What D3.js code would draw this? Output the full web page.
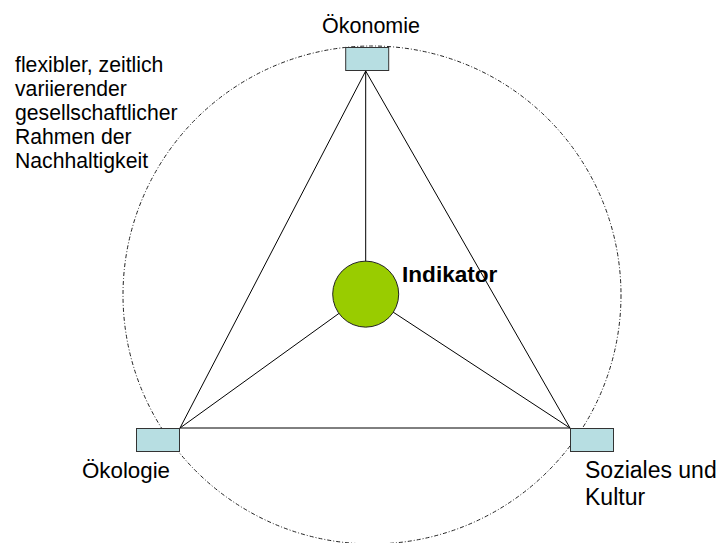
<!DOCTYPE html>
<html><head><meta charset="utf-8">
<script src="https://cdn.jsdelivr.net/npm/d3@7"></script>
<style>body{margin:0;background:#fff}text{font-family:"Liberation Sans",Arial,sans-serif;fill:#000}</style>
</head><body>
<svg id="c" width="718" height="543"></svg>
<script>
// Diagram data
const pillars = ["Ökonomie", "Ökologie", "Soziales und Kultur"];
const pillarLabelLines = [["Ökonomie"], ["Ökologie"], ["Soziales und", "Kultur"]];
const centerLabel = ["Indikator"];
const frameLabelLines = ["flexibler, zeitlich", "variierender", "gesellschaftlicher", "Rahmen der", "Nachhaltigkeit"];
// abstract layout units (0..100)
const pillarU = [50, 2, 102];
const pillarV = [0, 100, 100];

const sx = d3.scaleLinear().domain([2, 102]).range([180, 570]);
const sy = d3.scaleLinear().domain([0, 100]).range([71, 428]);
const s = d3.select("#c");
const verts = pillars.map((p, i) => ({name: p, x: sx(pillarU[i]) - (i === 0 ? 1.5 : 0), y: sy(pillarV[i])}));
const core = {x: verts[0].x, y: sy(62.5), r: 33};

// frame circle
s.append("circle").attr("cx", 372).attr("cy", 295).attr("r", 249)
  .attr("fill", "none").attr("stroke", "#222").attr("stroke-width", 1)
  .attr("stroke-dasharray", "4,2,1,2");

// triangle
const tri = d3.line()(verts.map(v => [v.x, v.y]).concat([[verts[0].x, verts[0].y]]));
s.append("path").attr("d", tri).attr("fill", "none").attr("stroke", "#000").attr("stroke-width", 1);
// spokes
verts.forEach(v => s.append("line").attr("x1", core.x).attr("y1", core.y).attr("x2", v.x).attr("y2", v.y)
  .attr("stroke", "#000").attr("stroke-width", 1));

// boxes
const bw = 44, bh = 24;
const boxPos = [
  {x: verts[0].x + 1.5 - bw / 2, y: verts[0].y - bh},
  {x: verts[1].x - bw, y: verts[1].y},
  {x: verts[2].x, y: verts[2].y}
];
boxPos.forEach(b => s.append("rect").attr("x", b.x + 0.5).attr("y", b.y + 0.5).attr("width", bw - 1).attr("height", bh - 1)
  .attr("fill", "#b7dee2").attr("stroke", "#333").attr("stroke-width", 1));

// core circle
s.append("circle").attr("cx", core.x).attr("cy", core.y).attr("r", core.r)
  .attr("fill", "#99cc00").attr("stroke", "#222").attr("stroke-width", 1);

// labels
const labPos = [
  {x: 371, y: 33, anchor: "middle", fs: 21.5},
  {x: 82, y: 478, anchor: "start", fs: 22.3},
  {x: 585, y: 478, anchor: "start", fs: 23}
];
pillarLabelLines.forEach((lines, i) => {
  const t = s.append("text").attr("x", labPos[i].x).attr("y", labPos[i].y)
    .attr("text-anchor", labPos[i].anchor).attr("font-size", labPos[i].fs);
  lines.forEach((l, j) => t.append("tspan").attr("x", labPos[i].x).attr("dy", j ? 27 : 0).text(l));
});
s.append("text").attr("x", 402).attr("y", 282).attr("font-size", 22.6).attr("font-weight", "bold").text(centerLabel[0]);
const ft = s.append("text").attr("x", 15).attr("y", 72).attr("font-size", 21.2);
frameLabelLines.forEach((l, j) => ft.append("tspan").attr("x", 15).attr("dy", j ? 24 : 0).text(l));
</script>
</body></html>
